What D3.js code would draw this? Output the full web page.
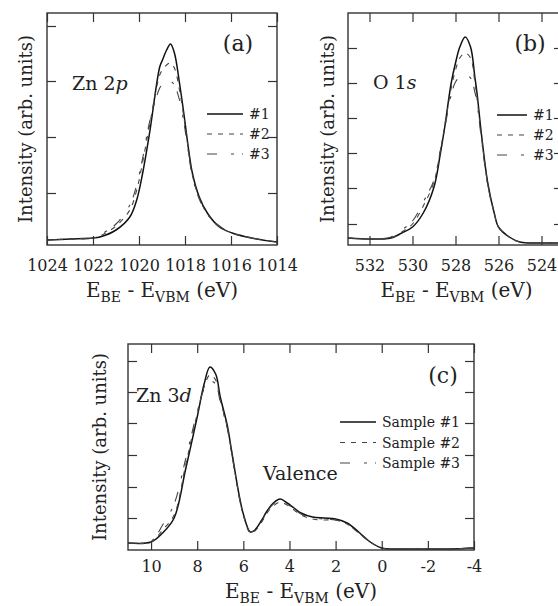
<!DOCTYPE html>
<html>
<head>
<meta charset="utf-8">
<script src="https://cdn.jsdelivr.net/npm/d3@7"></script>
<style>
  body { margin: 0; background: #fff; }
  text { font-family: "DejaVu Serif", serif; fill: #222; }
</style>
</head>
<body>
<svg id="chart" width="558" height="606"></svg>
<script>
// ---- data (intensity in arb. units) ----
// (a) Zn 2p
var zn2pE  = [1024, 1023, 1022, 1021.7, 1021, 1020.4, 1020.1, 1019.84, 1019.54, 1019.1, 1018.98, 1018.8, 1018.63, 1018.46, 1018.24, 1018.03, 1017.9, 1017.68, 1017.38, 1017.03, 1016.5, 1015.95, 1015.1, 1014];
var zn2pS1 = [2, 3, 4, 5, 12, 25, 42, 69, 109, 175, 182, 192, 198, 189, 159, 125, 102, 69, 45, 29, 15, 9, 4, 0];
var zn2pS2 = [2, 3, 4, 6, 16, 32, 52, 80, 117, 167, 172, 177, 179, 174, 152, 122, 100, 67, 44, 28, 15, 9, 4, 0];
var zn2pS3 = [2, 3, 4, 7, 18, 37, 57, 84, 120, 154, 158, 162, 161, 157, 142, 117, 97, 66, 43, 28, 16, 9, 4, 0];

// (b) O 1s
var o1sE  = [533, 532, 531, 530.5, 530, 529.5, 529, 528.7, 528.5, 528.2, 528, 527.8, 527.55, 527.3, 527.1, 527, 526.8, 526.5, 526.2, 526, 525.5, 525, 524, 523];
var o1sS1 = [5, 4, 5, 10, 16, 30, 56, 90, 116, 160, 180, 196, 206, 196, 166, 150, 110, 60, 30, 16, 6, 1, 0, 0];
var o1sS2 = [5, 4, 5, 11, 19, 37, 61, 93, 117, 155, 173, 185, 190, 185, 161, 145, 108, 59, 30, 16, 6, 1, 0, 0];
var o1sS3 = [5, 4, 6, 13, 22, 41, 63, 93, 115, 148, 161, 166, 168, 165, 151, 140, 105, 58, 30, 16, 6, 1, 0, 0];

// (c) Zn 3d + valence band
var vbE  = [11, 10, 9.5, 9, 8.5, 8, 7.7, 7.45, 7.2, 7, 6.7, 6.5, 6.2, 6, 5.7, 5.5, 5.2, 5, 4.7, 4.4, 4.1, 3.8, 3.5, 3, 2.5, 2, 1.5, 1, 0.5, 0, -0.5, -1, -2, -3, -4];
var vbS1 = [6, 7, 16, 31, 80, 132, 165, 182, 175, 152, 124, 97, 56, 35, 17, 19, 29, 37, 46, 50, 46, 41, 36, 32, 31, 30, 26, 17, 7, 1, 0, 0, 0, 0, 1];
var vbS2 = [6, 7, 19, 34, 84, 135, 162, 174, 169, 149, 122, 96, 55, 34, 16, 18, 27, 35, 43, 47, 44, 39, 34, 30, 29, 29, 25, 16, 7, 1, 0, 0, 0, 0, 1];
var vbS3 = [6, 8, 24, 45, 90, 137, 160, 168, 165, 147, 121, 95, 54, 34, 17, 19, 28, 36, 45, 48, 45, 40, 35, 31, 30, 29, 25, 16, 7, 1, 0, 0, 0, 0, 1];

// tick values
var zn2pTicks = [1024, 1022, 1020, 1018, 1016, 1014];
var o1sTicks  = [532, 530, 528, 526, 524];
var vbTicks   = [10, 8, 6, 4, 2, 0, -2, -4];
var zn2pYTicks = [49, 105, 161, 216];
var o1sYTicks  = [19, 55, 90, 125, 160, 195];
var vbYTicks   = [31, 62, 94, 126, 157, 188];

var shortNames = ["#1", "#2", "#3"];
var longNames  = ["Sample #1", "Sample #2", "Sample #3"];

// line styles for the three samples
var styles = [
  {dash: null, color: "#111", width: 1.5},
  {dash: "5,6", color: "#444", width: 1.1},
  {dash: "10,14,3,8", color: "#444", width: 1.1}
];

var svg = d3.select("#chart");

function drawPanel(p) {
  var x = d3.scaleLinear().domain(p.xDomain).range([p.left, p.left + p.width]);
  var y = d3.scaleLinear().domain(p.yDomain).range([p.top + p.height, p.top]);
  var g = svg.append("g");

  var clipId = "clip-" + p.id;
  svg.append("clipPath").attr("id", clipId)
    .append("rect")
    .attr("x", p.left).attr("y", p.top)
    .attr("width", p.width).attr("height", p.height);

  // curves
  var line = d3.line()
    .x(function(d) { return x(d[0]); })
    .y(function(d) { return y(d[1]); })
    .curve(d3.curveCatmullRom.alpha(0.5));

  p.series.forEach(function(s, i) {
    var pts = p.energies.map(function(e, k) { return [e, s[k]]; });
    g.append("path")
      .attr("clip-path", "url(#" + clipId + ")")
      .attr("d", line(pts))
      .attr("fill", "none")
      .attr("stroke", styles[i].color)
      .attr("stroke-width", styles[i].width)
      .attr("stroke-dasharray", styles[i].dash);
  });

  // axes (inward ticks on all four sides)
  var tick = 9;
  var bottom = g.append("g")
    .attr("transform", "translate(0," + (p.top + p.height) + ")")
    .call(d3.axisBottom(x).tickValues(p.xTicks).tickSize(-tick).tickPadding(p.labelPad)
      .tickFormat(function(d) { return String(d); }));
  var top = g.append("g")
    .attr("transform", "translate(0," + p.top + ")")
    .call(d3.axisTop(x).tickValues(p.xTicks).tickSize(-tick).tickFormat(""));
  var left = g.append("g")
    .attr("transform", "translate(" + p.left + ",0)")
    .call(d3.axisLeft(y).tickValues(p.yTicks).tickSize(-tick).tickFormat(""));
  var right = g.append("g")
    .attr("transform", "translate(" + (p.left + p.width) + ",0)")
    .call(d3.axisRight(y).tickValues(p.yTicks).tickSize(-tick).tickFormat(""));

  [bottom, top, left, right].forEach(function(a) {
    a.select(".domain").remove();
    a.selectAll("line").attr("stroke", "#333").attr("stroke-width", 1.2);
  });
  bottom.selectAll("text")
    .style("font-family", "'DejaVu Serif', serif")
    .style("font-size", "16px")
    .attr("fill", "#222");

  // frame
  g.append("rect")
    .attr("x", p.left).attr("y", p.top)
    .attr("width", p.width).attr("height", p.height)
    .attr("fill", "none").attr("stroke", "#333").attr("stroke-width", 1.4);

  // axis titles
  var xt = g.append("text")
    .attr("x", p.left + p.width / 2 + p.xTitleShift)
    .attr("y", p.top + p.height + p.xTitleGap)
    .attr("text-anchor", "middle")
    .style("font-size", "20px");
  xt.append("tspan").text("E");
  xt.append("tspan").attr("dy", 5).style("font-size", "14px").text("BE");
  xt.append("tspan").attr("dy", -5).text(" - E");
  xt.append("tspan").attr("dy", 5).style("font-size", "14px").text("VBM");
  xt.append("tspan").attr("dy", -5).text(" (eV)");

  g.append("text")
    .attr("transform", "translate(" + p.yTitleX + "," + (p.top + p.height / 2) + ") rotate(-90)")
    .attr("text-anchor", "middle")
    .style("font-size", "18px")
    .text("Intensity (arb. units)");

  // panel letter
  g.append("text")
    .attr("x", p.letterX).attr("y", p.letterY)
    .attr("text-anchor", "middle")
    .style("font-size", "22px")
    .text(p.letter);

  // annotations
  p.notes.forEach(function(n) {
    var t = g.append("text").attr("x", n.x).attr("y", n.y).style("font-size", "19px");
    t.append("tspan").text(n.text);
    if (n.italic) t.append("tspan").style("font-style", "italic").text(n.italic);
  });

  // legend
  p.names.forEach(function(name, i) {
    var ly = p.legendY + i * p.legendStep;
    g.append("line")
      .attr("x1", p.legendX).attr("x2", p.legendX + p.legendLen)
      .attr("y1", ly).attr("y2", ly)
      .attr("stroke", styles[i].color)
      .attr("stroke-width", styles[i].width)
      .attr("stroke-dasharray", styles[i].dash);
    g.append("text")
      .attr("x", p.legendX + p.legendLen + 6)
      .attr("y", ly + 5)
      .style("font-size", "14px")
      .text(name);
  });
}

drawPanel({
  id: "a", letter: "(a)",
  left: 47, top: 13, width: 230, height: 232,
  xDomain: [1024, 1014], yDomain: [-3, 229],
  xTicks: zn2pTicks, yTicks: zn2pYTicks, labelPad: 15,
  energies: zn2pE, series: [zn2pS1, zn2pS2, zn2pS3],
  xTitleShift: 0, xTitleGap: 52, yTitleX: 32,
  letterX: 238, letterY: 51,
  notes: [{x: 72, y: 90, text: "Zn 2", italic: "p"}],
  names: shortNames, legendX: 207, legendLen: 36, legendY: 114, legendStep: 20
});

drawPanel({
  id: "b", letter: "(b)",
  left: 348, top: 13, width: 215, height: 232,
  xDomain: [533, 523], yDomain: [-2, 230],
  xTicks: o1sTicks, yTicks: o1sYTicks, labelPad: 15,
  energies: o1sE, series: [o1sS1, o1sS2, o1sS3],
  xTitleShift: 1, xTitleGap: 52, yTitleX: 334,
  letterX: 530, letterY: 51,
  notes: [{x: 373, y: 89, text: "O 1", italic: "s"}],
  names: shortNames, legendX: 497, legendLen: 30, legendY: 115, legendStep: 20
});

drawPanel({
  id: "c", letter: "(c)",
  left: 128, top: 344, width: 346, height: 206,
  xDomain: [11, -4], yDomain: [-1, 205],
  xTicks: vbTicks, yTicks: vbYTicks, labelPad: 11,
  energies: vbE, series: [vbS1, vbS2, vbS3],
  xTitleShift: 0, xTitleGap: 48, yTitleX: 106,
  letterX: 443, letterY: 383,
  notes: [{x: 136, y: 402, text: "Zn 3", italic: "d"}, {x: 263, y: 480, text: "Valence"}],
  names: longNames, legendX: 340, legendLen: 36, legendY: 422, legendStep: 20.5
});
</script>
</body>
</html>
